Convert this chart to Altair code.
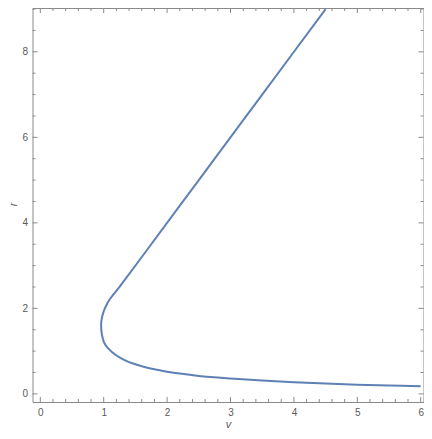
import altair as alt
import pandas as pd

# curve, ordered along the path
v_values = [6.0, 5.5, 5.0, 4.5, 4.0, 3.5, 3.0, 2.5, 2.2, 2.0, 1.8, 1.6, 1.45, 1.33,
            1.22, 1.13, 1.06, 1.01, 0.985, 0.968, 0.96, 0.963, 0.975, 1.0, 1.038,
            1.09, 1.168, 1.25, 1.335, 1.56, 2.5, 3.5, 4.5]
r_values = [0.178, 0.195, 0.215, 0.24, 0.27, 0.31, 0.36, 0.42, 0.474, 0.52, 0.575,
            0.648, 0.715, 0.79, 0.88, 0.98, 1.08, 1.19, 1.30, 1.42, 1.57, 1.70, 1.80,
            1.93, 2.06, 2.20, 2.35, 2.505, 2.67, 3.12, 5.0, 7.0, 9.0]

x_major = [0, 1, 2, 3, 4, 5, 6]
x_minor = [0.2, 0.4, 0.6, 0.8, 1.2, 1.4, 1.6, 1.8, 2.2, 2.4, 2.6, 2.8, 3.2, 3.4, 3.6, 3.8,
           4.2, 4.4, 4.6, 4.8, 5.2, 5.4, 5.6, 5.8]
y_major = [0, 2, 4, 6, 8]
y_minor = [0.5, 1, 1.5, 2.5, 3, 3.5, 4.5, 5, 5.5, 6.5, 7, 7.5, 8.5, 9]

df = pd.DataFrame({"v": v_values, "r": r_values, "i": list(range(len(v_values)))})

FRAME = "#8a8a8a"
LABEL = "#5a5a5a"
FONT = "Liberation Sans"
W, H = 391, 394

xscale = alt.Scale(domain=[-0.123, 6.044], nice=False, zero=False)
yscale = alt.Scale(domain=[-0.19, 9.025], nice=False, zero=False)

xaxis = alt.Axis(orient="bottom", values=x_major, ticks=False, tickSize=0,
                 domain=False, grid=False, labelPadding=5, labelFontSize=10,
                 labelColor=LABEL, labelFont=FONT, title="v",
                 titleFont=FONT, titleFontStyle="italic", titleFontWeight="normal",
                 titleFontSize=11, titleColor=LABEL, titleY=22,
                 titleBaseline="middle")
yaxis = alt.Axis(orient="left", values=y_major, ticks=False, tickSize=0,
                 domain=False, grid=False, labelPadding=5, labelFontSize=10,
                 labelColor=LABEL, labelFont=FONT, title="r",
                 titleFont=FONT, titleFontStyle="italic", titleFontWeight="normal",
                 titleFontSize=11, titleColor=LABEL, titleX=-19, titleY=196,
                 titleAngle=270, titleBaseline="middle")

line = alt.Chart(df).mark_line(color="#5E81B5", strokeWidth=2,
                               interpolate="catmull-rom").encode(
    x=alt.X("v:Q", scale=xscale, axis=xaxis),
    y=alt.Y("r:Q", scale=yscale, axis=yaxis),
    order="i:Q",
)


def xticks(values, size, top):
    d = pd.DataFrame({"v": values})
    y0 = 0 if top else H
    y1 = size if top else H - size
    return alt.Chart(d).mark_rule(color=FRAME, strokeWidth=1).encode(
        x=alt.X("v:Q", scale=xscale, axis=xaxis),
        y=alt.value(y0), y2=alt.value(y1))


def yticks(values, size, right):
    d = pd.DataFrame({"r": values})
    x0 = W if right else 0
    x1 = W - size if right else size
    return alt.Chart(d).mark_rule(color=FRAME, strokeWidth=1).encode(
        y=alt.Y("r:Q", scale=yscale, axis=yaxis),
        x=alt.value(x0), x2=alt.value(x1))


layers = [
    xticks(x_major, 5, False), xticks(x_minor, 3, False),
    xticks(x_major, 5, True), xticks(x_minor, 3, True),
    yticks(y_major, 5, False), yticks(y_minor, 3, False),
    yticks(y_major, 5, True), yticks(y_minor, 3, True),
    line,
]

chart = (
    alt.layer(*layers)
    .properties(width=W, height=H,
                autosize=alt.AutoSizeParams(type="none"),
                padding={"left": 24.5, "top": 0, "right": 0.5, "bottom": 29})
    .configure_view(stroke=FRAME, strokeWidth=1)
)

chart.save("out.html", embed_options={"renderer": "svg", "actions": False})
